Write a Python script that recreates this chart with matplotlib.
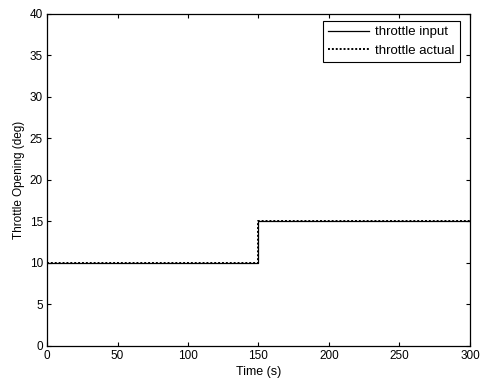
import matplotlib.pyplot as plt

# Step input data
time = [0, 150, 150, 300]
throttle_input = [10, 10, 15, 15]
throttle_actual = [10, 10, 15, 15]

x_ticks = [0, 50, 100, 150, 200, 250, 300]
y_ticks = [0, 5, 10, 15, 20, 25, 30, 35, 40]

plt.rcParams["font.family"] = ["Liberation Sans", "DejaVu Sans"]
plt.rcParams["font.size"] = 8.5

fig = plt.figure(figsize=(4.8, 3.83), dpi=100)
ax = fig.add_axes([0.098, 0.097, 0.881, 0.867])

ax.plot(time, throttle_input, color="black", linewidth=0.9, label="throttle input")
ax.plot(time, throttle_actual, color="black", linewidth=1.4, linestyle=(0, (1, 1)),
        label="throttle actual")

ax.set_xlim(0, 300)
ax.set_ylim(0, 40)
ax.set_xticks(x_ticks)
ax.set_yticks(y_ticks)
ax.tick_params(direction="in", top=True, right=True, length=3, width=0.8, pad=3)
for s in ax.spines.values():
    s.set_linewidth(0.9)

ax.set_xlabel("Time (s)", labelpad=3, fontsize=9)
ax.set_ylabel("Throttle Opening (deg)", labelpad=3.5)

leg = ax.legend(loc="upper right", bbox_to_anchor=(0.977, 0.979), borderaxespad=0,
                fancybox=False, edgecolor="black", framealpha=1, fontsize=9.5,
                handlelength=3.1, handletextpad=0.5, borderpad=0.4,
                labelspacing=0.5)
leg.get_frame().set_linewidth(0.8)

fig.savefig("out.png", dpi=100)
